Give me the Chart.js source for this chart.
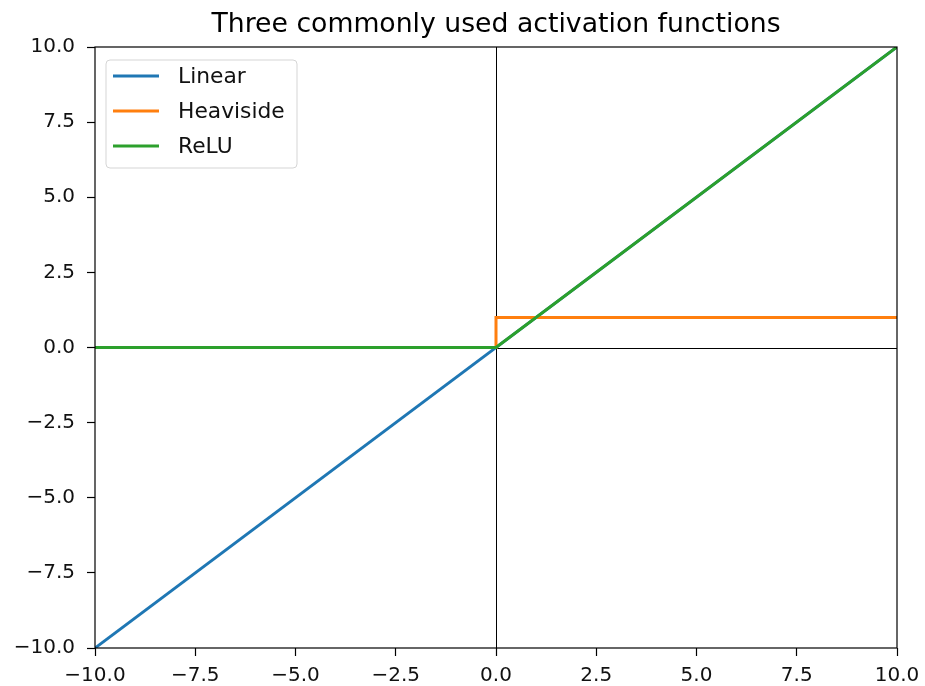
<!DOCTYPE html>
<html>
<head>
<meta charset="utf-8">
<script src="https://cdn.jsdelivr.net/npm/chart.js@4/dist/chart.umd.min.js"></script>
<style>
  html, body { margin: 0; padding: 0; background: #fff; }
  #wrap { width: 925px; height: 686px; }
</style>
</head>
<body>
<div id="wrap"><canvas id="chart" width="925" height="686"></canvas></div>
<script>
// data
const titleText = 'Three commonly used activation functions';
const seriesNames = ['Linear', 'Heaviside', 'ReLU'];
const seriesColors = ['#1f77b4', '#ff7f0e', '#2ca02c'];
const linearX = [-10, 10];
const linearY = [-10, 10];
const heavisideX = [-10, 0, 0, 10];
const heavisideY = [0, 0, 1, 1];
const reluX = [-10, 0, 10];
const reluY = [0, 0, 10];
const tickValues = [-10, -7.5, -5, -2.5, 0, 2.5, 5, 7.5, 10];

const FONT = 'DejaVu Sans';

function pts(xs, ys) {
    return xs.map((x, i) => ({ x: x, y: ys[i] }));
}

function fmt(v) {
    const s = Math.abs(v).toFixed(1);
    return v < 0 ? '\u2212' + s : s;
}

// black lines through the origin, frame, title and legend box
const decor = {
    id: 'decor',
    beforeDatasetsDraw(chart) {
        const ctx = chart.ctx;
        const xs = chart.scales.x, ys = chart.scales.y;
        const a = chart.chartArea;
        const x0 = Math.round(xs.getPixelForValue(0)) + 0.5;
        const y0 = Math.round(ys.getPixelForValue(0)) + 0.5;
        ctx.save();
        ctx.strokeStyle = '#000';
        ctx.lineWidth = 1;
        ctx.beginPath();
        ctx.moveTo(a.left, y0); ctx.lineTo(a.right, y0);
        ctx.moveTo(x0, a.top); ctx.lineTo(x0, a.bottom);
        ctx.stroke();
        ctx.restore();
    },
    afterDraw(chart) {
        const ctx = chart.ctx;
        const a = chart.chartArea;
        ctx.save();
        // frame
        ctx.strokeStyle = '#000';
        ctx.lineWidth = 1.2;
        ctx.strokeRect(a.left, a.top, a.right - a.left, a.bottom - a.top);

        // title
        ctx.fillStyle = '#000';
        ctx.font = '26.7px "' + FONT + '"';
        ctx.textAlign = 'center';
        ctx.textBaseline = 'alphabetic';
        ctx.fillText(titleText, (a.left + a.right) / 2, 32);

        // legend
        const bx = a.left + 11, by = a.top + 13, bw = 191, bh = 108;
        ctx.beginPath();
        ctx.roundRect(bx, by, bw, bh, 4);
        ctx.fillStyle = 'rgba(255,255,255,0.8)';
        ctx.fill();
        ctx.strokeStyle = '#d5d5d5';
        ctx.lineWidth = 1;
        ctx.stroke();
        ctx.font = '21.8px "' + FONT + '"';
        ctx.textAlign = 'left';
        ctx.textBaseline = 'middle';
        chart.data.datasets.forEach((ds, i) => {
            const ry = by + 16 + i * 35;
            ctx.strokeStyle = ds.borderColor;
            ctx.lineWidth = 3;
            ctx.beginPath();
            ctx.moveTo(bx + 7, ry); ctx.lineTo(bx + 53, ry);
            ctx.stroke();
            ctx.fillStyle = '#111';
            ctx.fillText(ds.label, bx + 72, ry + 1);
        });
        ctx.restore();
    }
};

function axis(pos, fitSize) {
    return {
        type: 'linear',
        position: pos,
        min: -10,
        max: 10,
        afterBuildTicks: s => { s.ticks = tickValues.map(v => ({ value: v })); },
        afterFit: s => {
            if (pos === 'left') s.width = fitSize; else s.height = fitSize;
            s.paddingLeft = 0; s.paddingRight = 0;
            s.paddingTop = 0; s.paddingBottom = 0;
        },
        border: { display: false },
        grid: {
            drawOnChartArea: false,
            drawTicks: true,
            tickLength: 8,
            tickWidth: 1.2,
            color: '#000'
        },
        ticks: {
            autoSkip: false,
            maxRotation: 0,
            padding: pos === 'left' ? 12 : 8,
            color: '#111',
            font: { family: FONT, size: 20 },
            callback: v => fmt(v)
        }
    };
}

new Chart(document.getElementById('chart'), {
    type: 'line',
    data: {
        datasets: [
            { label: seriesNames[0], data: pts(linearX, linearY), order: 2 },
            { label: seriesNames[1], data: pts(heavisideX, heavisideY), order: 1 },
            { label: seriesNames[2], data: pts(reluX, reluY), order: 0 }
        ].map((d, i) => Object.assign(d, {
            borderColor: seriesColors[i],
            backgroundColor: seriesColors[i],
            borderWidth: 3,
            pointRadius: 0,
            tension: 0,
            fill: false
        }))
    },
    options: {
        responsive: false,
        animation: false,
        layout: { padding: { top: 47, right: 28, bottom: 0, left: 0 } },
        plugins: {
            legend: { display: false },
            title: { display: false },
            tooltip: { enabled: false }
        },
        scales: {
            x: axis('bottom', 38),
            y: axis('left', 95)
        }
    },
    plugins: [decor]
});
</script>
</body>
</html>
